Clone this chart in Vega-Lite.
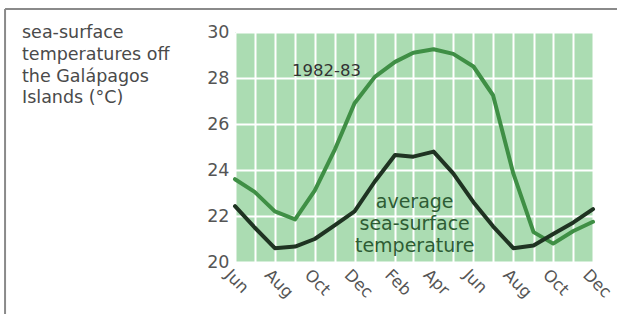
{
  "$schema": "https://vega.github.io/schema/vega-lite/v6.json",
  "autosize": "none",
  "width": 358,
  "height": 230,
  "padding": {"left": 235, "top": 32, "right": 24, "bottom": 52},
  "background": "white",
  "title": {
    "text": ["sea-surface", "temperatures off", "the Galápagos", "Islands (°C)"],
    "anchor": "start",
    "frame": "group",
    "dx": -213,
    "dy": 103,
    "font": "DejaVu Sans",
    "fontSize": 17.5,
    "fontWeight": "normal",
    "color": "#4a4a4a",
    "lineHeight": 21.7
  },
  "config": {
    "view": {"fill": "#abdcb2", "stroke": null},
    "axis": {
      "labelFont": "DejaVu Sans",
      "labelFontSize": 17.5,
      "labelColor": "#555555",
      "domain": false,
      "ticks": false,
      "grid": true,
      "gridColor": "#ffffff",
      "gridWidth": 2,
      "gridOpacity": 1,
      "title": null
    }
  },
  "datasets": {
    "temps": [
      {"month": "1982-06-01", "series": "1982-83", "temp": 23.6},
      {"month": "1982-07-01", "series": "1982-83", "temp": 23.05},
      {"month": "1982-08-01", "series": "1982-83", "temp": 22.2},
      {"month": "1982-09-01", "series": "1982-83", "temp": 21.85},
      {"month": "1982-10-01", "series": "1982-83", "temp": 23.1},
      {"month": "1982-11-01", "series": "1982-83", "temp": 24.9},
      {"month": "1982-12-01", "series": "1982-83", "temp": 26.9},
      {"month": "1983-01-01", "series": "1982-83", "temp": 28.05},
      {"month": "1983-02-01", "series": "1982-83", "temp": 28.7},
      {"month": "1983-03-01", "series": "1982-83", "temp": 29.1},
      {"month": "1983-04-01", "series": "1982-83", "temp": 29.25},
      {"month": "1983-05-01", "series": "1982-83", "temp": 29.05},
      {"month": "1983-06-01", "series": "1982-83", "temp": 28.5},
      {"month": "1983-07-01", "series": "1982-83", "temp": 27.25},
      {"month": "1983-08-01", "series": "1982-83", "temp": 23.85},
      {"month": "1983-09-01", "series": "1982-83", "temp": 21.3},
      {"month": "1983-10-01", "series": "1982-83", "temp": 20.8},
      {"month": "1983-11-01", "series": "1982-83", "temp": 21.35},
      {"month": "1983-12-01", "series": "1982-83", "temp": 21.75},
      {"month": "1982-06-01", "series": "average", "temp": 22.43},
      {"month": "1982-07-01", "series": "average", "temp": 21.5},
      {"month": "1982-08-01", "series": "average", "temp": 20.6},
      {"month": "1982-09-01", "series": "average", "temp": 20.67},
      {"month": "1982-10-01", "series": "average", "temp": 21.0},
      {"month": "1982-11-01", "series": "average", "temp": 21.6},
      {"month": "1982-12-01", "series": "average", "temp": 22.2},
      {"month": "1983-01-01", "series": "average", "temp": 23.5},
      {"month": "1983-02-01", "series": "average", "temp": 24.65},
      {"month": "1983-03-01", "series": "average", "temp": 24.58},
      {"month": "1983-04-01", "series": "average", "temp": 24.8},
      {"month": "1983-05-01", "series": "average", "temp": 23.85},
      {"month": "1983-06-01", "series": "average", "temp": 22.6},
      {"month": "1983-07-01", "series": "average", "temp": 21.55},
      {"month": "1983-08-01", "series": "average", "temp": 20.6},
      {"month": "1983-09-01", "series": "average", "temp": 20.72},
      {"month": "1983-10-01", "series": "average", "temp": 21.22},
      {"month": "1983-11-01", "series": "average", "temp": 21.72},
      {"month": "1983-12-01", "series": "average", "temp": 22.3}
    ],
    "labels": [
      {"month": "1982-10-19", "temp": 28.3, "label": "1982-83", "series": "1982-83"},
      {"month": "1983-03-03", "temp": 22.6, "label": "average\nsea-surface\ntemperature", "series": "average"}
    ]
  },
  "layer": [
    {
      "data": {"name": "temps"},
      "mark": {"type": "line", "strokeWidth": 4, "strokeJoin": "round", "strokeCap": "round"},
      "encoding": {
        "x": {
          "field": "month",
          "type": "temporal",
          "scale": {"type": "utc", "domain": ["1982-06-01", "1983-12-01"], "nice": false},
          "axis": {
            "grid": true,
            "tickCount": {"interval": "month", "step": 1},
            "labelExpr": "utcmonth(datum.value) % 2 == 1 ? utcFormat(datum.value, '%b') : ''",
            "labelAngle": 45,
            "labelAlign": "left",
            "labelBaseline": "middle",
            "labelFontSize": 16.5,
            "labelOffset": -8,
            "labelPadding": 10,
            "labelOverlap": false,
            "labelBound": false,
            "labelFlush": false
          }
        },
        "y": {
          "field": "temp",
          "type": "quantitative",
          "scale": {"domain": [20, 30], "nice": false, "zero": false},
          "axis": {"grid": true, "values": [20, 22, 24, 26, 28, 30], "labelPadding": 6}
        },
        "color": {
          "field": "series",
          "type": "nominal",
          "scale": {"domain": ["1982-83", "average"], "range": ["#3f8f45", "#1f3322"]},
          "legend": null
        }
      }
    },
    {
      "data": {"values": [{}]},
      "mark": {"type": "rule", "color": "#8a8a8a", "strokeWidth": 2, "clip": false},
      "encoding": {
        "x": {"datum": {"year": 1981, "month": 6, "date": 14, "utc": true}, "type": "temporal"},
        "x2": {"datum": {"year": 1984, "month": 1, "date": 10, "utc": true}},
        "y": {"datum": 31, "type": "quantitative"}
      }
    },
    {
      "data": {"values": [{}]},
      "mark": {"type": "rule", "color": "#8a8a8a", "strokeWidth": 2, "clip": false},
      "encoding": {
        "x": {"datum": {"year": 1981, "month": 6, "date": 14, "utc": true}, "type": "temporal"},
        "y": {"datum": 31, "type": "quantitative"},
        "y2": {"datum": 17.5}
      }
    },
    {
      "data": {"name": "labels"},
      "mark": {"type": "text", "align": "center", "baseline": "middle", "font": "DejaVu Sans", "lineBreak": "\n", "lineHeight": 22},
      "encoding": {
        "x": {"field": "month", "type": "temporal"},
        "y": {"field": "temp", "type": "quantitative"},
        "text": {"field": "label"},
        "color": {
          "field": "series",
          "type": "nominal",
          "scale": {"domain": ["1982-83", "average"], "range": ["#333333", "#2e5c34"]},
          "legend": null
        },
        "size": {
          "field": "series",
          "type": "nominal",
          "scale": {"domain": ["1982-83", "average"], "range": [16.5, 19]},
          "legend": null
        }
      }
    }
  ],
  "resolve": {"scale": {"color": "independent", "size": "independent"}}
}
